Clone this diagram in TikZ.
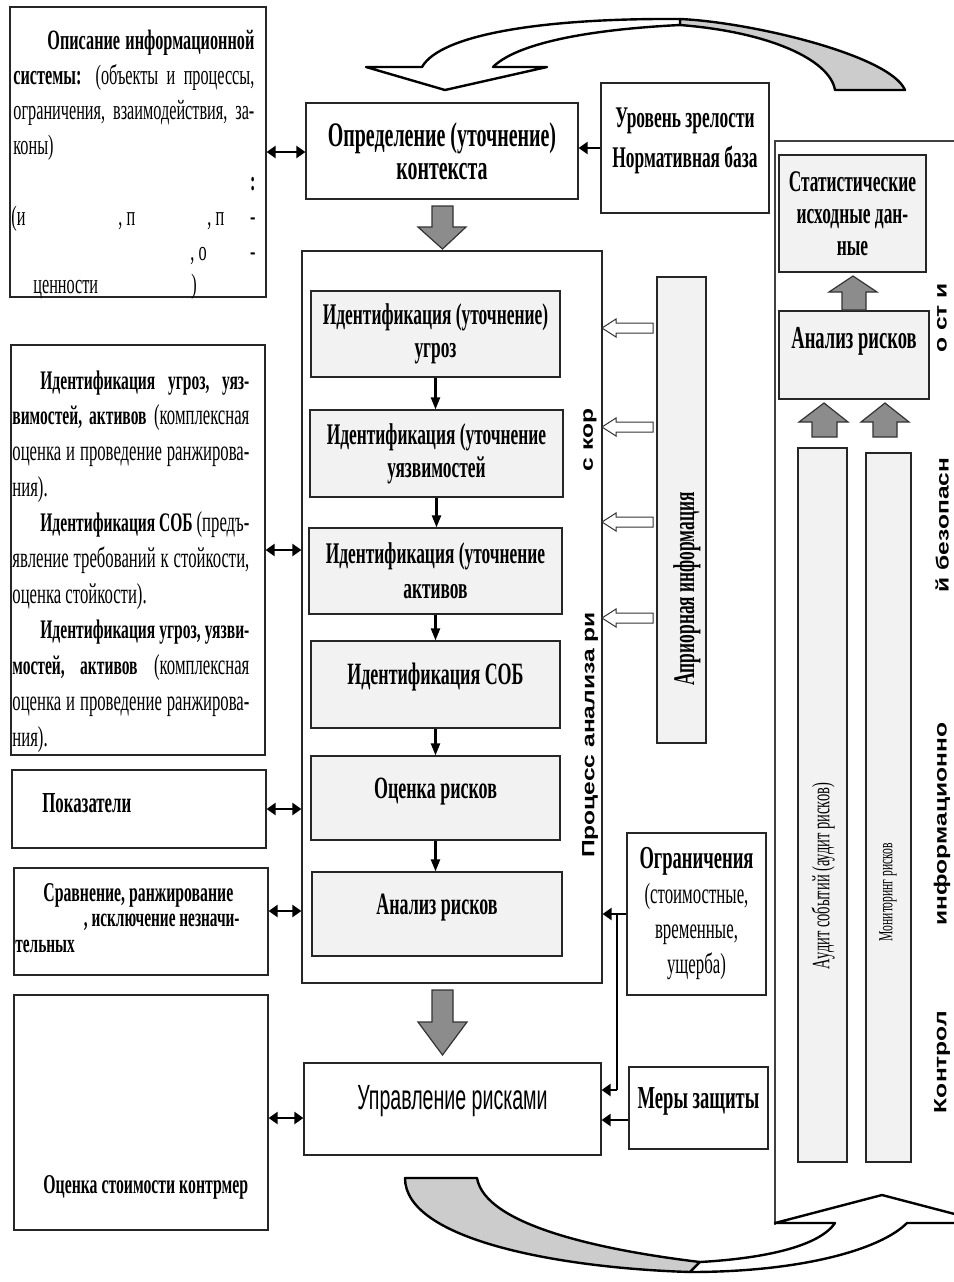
\documentclass[tikz,border=0pt]{standalone}
\usepackage{fontspec}
\usepackage{graphicx}
\setmainfont{Liberation Serif}[FakeStretch=0.58]
\newfontfamily\csans{Liberation Sans}[FakeStretch=0.56]
\newfontfamily\vsans{Liberation Sans}
\usetikzlibrary{arrows.meta}

\definecolor{boxgray}{RGB}{242,242,242}
\definecolor{arrowgray}{RGB}{140,140,140}
\definecolor{backgray}{RGB}{204,204,204}

\newcommand{\fsz}[2]{\fontsize{#1}{#2}\selectfont}
\newcommand{\vlbl}[1]{\scalebox{1}[0.72]{#1}}
\newcommand{\bterm}[1]{{\bfseries\fsz{13.4}{17.85}#1}}

\tikzset{
  box/.style={draw=black!85, line width=0.6pt, inner sep=0pt, align=center},
  gbox/.style={box, fill=boxgray},
  boxat/.style args={#1/#2/#3/#4}{minimum width={(#3-#1)*0.5pt}, minimum height={(#4-#2)*0.5pt},
    at={({0.5*(#1+#3)},{0.5*(#2+#4)})}},
  basemid/.style={text height=8pt, text depth=8pt},
  lnk/.style={-{Triangle[length=4.5pt,width=6pt]}, line width=1.4pt},
  dlnk/.style={{Triangle[length=4.5pt,width=6pt]}-{Triangle[length=4.5pt,width=6pt]}, line width=1.4pt},
  smalllnk/.style={-{Triangle[length=6pt,width=4.5pt]}, line width=1.1pt},
  fatarrow/.style={draw=black!80, line width=0.6pt, fill=arrowgray},
  hollow/.style={draw=black!80, line width=0.5pt, fill=white},
  ribbon/.style={draw=black, line width=1.2pt, line join=round},
  frameline/.style={draw=black!75, line width=0.6pt},
  vtxt/.style={rotate=90, inner sep=0pt, font=\vsans\bfseries\fsz{12.3}{13}}
}

\begin{document}
\begin{tikzpicture}[x=0.5pt, y=-0.5pt]
\useasboundingbox (0,0) rectangle (954,1282);
\fill[white] (0,0) rectangle (954,1282);

% left column
\node[box, boxat=10/7/266/297] (desc) {};
\node[anchor=north west, inner sep=0pt, text width=120.5pt, align=justify, font=\fsz{14}{17.5}] (desctxt) at (13,30)
  {\parindent=0pt\tolerance=9999\hspace*{17pt}\textbf{Описание информационной}\linebreak
   \textbf{системы:} (объекты и процессы,\linebreak
   ограничения, взаимодействия, за-\linebreak
   коны)};
\node[anchor=base east, inner sep=0pt, font=\bfseries\fsz{14}{17}] (colon) at (256,190) {:};
\foreach \xx/\yy/\frag [count=\i] in {11/225/{(и}, 118/225/{, п}, 207/225/{, п}, 190/260/{, о}, 33/293/{ценности}, 191/293/{)}}
  \node[anchor=base west, inner sep=0pt, font=\fsz{14}{17}] (frag\i) at (\xx,\yy) {\frag};
\node[anchor=base east, inner sep=0pt, font=\fsz{14}{17}] (dash1) at (256,225) {-};
\node[anchor=base east, inner sep=0pt, font=\fsz{14}{17}] (dash2) at (256,260) {-};

\node[box, boxat=11/345/265/755] (ident) {};
\node[anchor=north west, inner sep=0pt, text width=118.5pt, align=justify, font=\fsz{14.4}{17.85}] (identtxt) at (12,370)
  {\parindent=0pt\tolerance=9999\hyphenpenalty=10000\hfuzz=20pt
   \hspace*{14pt}\bterm{Идентификация~угроз,~уяз\mbox{-}}\linebreak
   \bterm{вимостей,~активов}~(комплексная\linebreak
   оценка~и~проведение~ранжирова\mbox{-}\linebreak
   ния).\par
   \hspace*{14pt}\bterm{Идентификация~СОБ}~(предъ\mbox{-}\linebreak
   явление~требований~к~стойкости,\linebreak
   оценка~стойкости).\par
   \hspace*{14pt}\bterm{Идентификация~угроз,~уязви\mbox{-}}\linebreak
   \bterm{мостей,~активов}~(комплексная\linebreak
   оценка~и~проведение~ранжирова\mbox{-}\linebreak
   ния).};

\node[box, boxat=12/770/266/848] (ind) {};
\node[anchor=base west, inner sep=0pt, font=\bfseries\fsz{14.5}{16}] (indtxt) at (42,812) {Показатели};

\node[box, boxat=14/868/268/975] (cmp) {};
\node[anchor=base west, inner sep=0pt, font=\bfseries\fsz{13.6}{15}] (cmp1) at (43,901) {Сравнение, ранжирование};
\node[anchor=base east, inner sep=0pt, font=\bfseries\fsz{13.2}{15}] (cmp2) at (240,926) {, исключение незначи-};
\node[anchor=base west, inner sep=0pt, font=\bfseries\fsz{13.2}{15}] (cmp3) at (15,952) {тельных};

\node[box, boxat=14/995/268/1230] (cost) {};
\node[anchor=base west, inner sep=0pt, font=\bfseries\fsz{13.6}{16}] (costtxt) at (43,1193) {Оценка стоимости контрмер};

% middle column
\node[box, boxat=306/103/578/199, font=\bfseries\fsz{17.2}{16.5}] (ctx) {Определение (уточнение)\\контекста};
\node[box, boxat=601/83/769/213] (lvl) {};
\node[anchor=north, inner sep=0pt, align=center, font=\bfseries\fsz{15}{20}] (lvltxt) at (685,107) {Уровень зрелости\\Нормативная база};

\node[box, boxat=302/251/602/983] (main) {};
\node[gbox, boxat=311/291/560/377, font=\bfseries\fsz{15}{16.5}] (thr) {Идентификация (уточнение)\\угроз};
\node[gbox, boxat=310/410/563/497, font=\bfseries\fsz{15}{16.5}] (vul) {Идентификация (уточнение\\уязвимостей};
\node[gbox, boxat=309/528/562/614, font=\bfseries\fsz{15}{17.5}] (ast) {Идентификация (уточнение\\активов};
\node[gbox, boxat=311/641/560/728, basemid, font=\bfseries\fsz{15.5}{17}] (sob) {Идентификация СОБ};
\node[gbox, boxat=311/756/560/840, basemid, font=\bfseries\fsz{15.5}{17}] (est) {Оценка рисков};
\node[gbox, boxat=312/872/562/956, basemid, font=\bfseries\fsz{15.5}{17}] (anl) {Анализ рисков};
\foreach \a/\b in {thr/vul, vul/ast, ast/sob, sob/est, est/anl}
  \draw[smalllnk] (\a.south) -- (\a.south |- \b.north);

\node[vtxt] (proc1) at (590,735) {\vlbl{Процесс анализа ри}};
\node[vtxt] (proc2) at (590,440) {\vlbl{с кор}};

\node[gbox, boxat=657/277/706/743] (apr) {};
\node[rotate=90, inner sep=0pt, font=\bfseries\fsz{15}{16}] (aprtxt) at (687,589) {Априорная информация};
\foreach \yy in {328,427,522,618}
  \draw[hollow] (602,\yy) -- (616,\yy-9) -- (616,\yy-5) -- (653,\yy-5) -- (653,\yy+5) -- (616,\yy+5) -- (616,\yy+9) -- cycle;

\node[box, boxat=627/833/766/995, font=\fsz{14.5}{17.5}] (lim) {{\bfseries\fsz{16}{17.5}Ограничения}\\(стоимостные,\\временные,\\ущерба)};
\node[box, boxat=304/1063/601/1155, basemid, font=\csans\fsz{17.5}{18}] (mgmt) {Управление рисками};
\node[box, boxat=629/1067/768/1149, basemid, font=\bfseries\fsz{16}{17}] (prot) {Меры защиты};

% grey block arrows
\draw[fatarrow] (432,206) -- (453,206) -- (453,227) -- (466,227) -- (442.5,249) -- (418,227) -- (432,227) -- cycle;
\draw[fatarrow] (432,990) -- (453,990) -- (453,1022) -- (467,1022) -- (442.5,1055) -- (418,1022) -- (432,1022) -- cycle;

% connectors
\draw[lnk] (lvl.west) -- (ctx.east |- lvl.west);
\draw[dlnk] (desc.east) -- (ctx.west |- desc.east);
\draw[dlnk] (ident.east) -- (main.west |- ident.east);
\draw[dlnk] (ind.east) -- (main.west |- ind.east);
\draw[dlnk] (cmp.east |- 0,911) -- (main.west |- 0,911);
\draw[dlnk] (cost.east |- 0,1118) -- (mgmt.west |- 0,1118);
\draw[lnk] (lim.west) -- (main.east |- lim.west);
\coordinate (limdrop) at (617,1090);
\draw[line width=0.9pt] (lim.west -| limdrop) -- (limdrop);
\draw[lnk] (limdrop) -- (mgmt.east |- limdrop);
\draw[lnk] (prot.west |- 0,1120) -- (mgmt.east |- 0,1120);

% right column
\draw[frameline] (954,141) -- (775,141) -- (775,1225);
\node[gbox, boxat=779/155/926/272, font=\bfseries\fsz{15}{16}] (stat) {Статистические\\исходные дан-\\ные};
\node[gbox, boxat=779/311/929/399, text height=8pt, text depth=15pt, font=\bfseries\fsz{16}{17}] (ranl) {Анализ рисков};
\draw[fatarrow] (842,310) -- (866,310) -- (866,292) -- (877,292) -- (853,276) -- (829,292) -- (842,292) -- cycle;
\draw[fatarrow] (812,437) -- (837,437) -- (837,422) -- (848,422) -- (824,403) -- (799,422) -- (812,422) -- cycle;
\draw[fatarrow] (873,437) -- (897,437) -- (897,422) -- (909,422) -- (885,403) -- (861,422) -- (873,422) -- cycle;
\node[gbox, boxat=798/448/847/1162] (aud) {};
\node[gbox, boxat=866/453/911/1162] (mon) {};
\node[rotate=90, inner sep=0pt, font=\fsz{12.5}{13}] (audtxt) at (823,876) {Аудит событий (аудит рисков)};
\node[rotate=90, inner sep=0pt, font=\fsz{10}{11}] (montxt) at (888,892) {Мониторинг рисков};
\node[vtxt] (ctl1) at (942,1062) {\vlbl{Контрол}};
\node[vtxt] (ctl2) at (942,824) {\vlbl{информационно}};
\node[vtxt] (ctl3) at (942,525) {\vlbl{й безопасн}};
\node[vtxt] (ctl4) at (942,318) {\vlbl{о ст и}};

% top loop arrow
\draw[ribbon, fill=backgray] (680,19) .. controls (750,22) and (890,55) .. (905,90) -- (835,90)
  .. controls (830,60) and (770,32) .. (680,25) -- cycle;
\draw[ribbon, fill=white] (366,67) -- (422,67) .. controls (440,35) and (540,18) .. (680,19) -- (680,25)
  .. controls (580,30) and (515,45) .. (493,67) -- (547,67) -- (445,90) -- cycle;

% bottom loop arrow
\draw[ribbon, fill=backgray] (405,1178) -- (477,1178) .. controls (485,1225) and (600,1250) .. (700,1262)
  -- (690,1272) .. controls (560,1268) and (405,1240) .. (405,1178) -- cycle;
\draw[ribbon, fill=white] (690,1272) .. controls (800,1272) and (880,1250) .. (907,1223) -- (989,1223)
  -- (882,1195) -- (775,1223) -- (835,1223) .. controls (820,1245) and (770,1258) .. (700,1262) -- cycle;
\end{tikzpicture}
\end{document}
